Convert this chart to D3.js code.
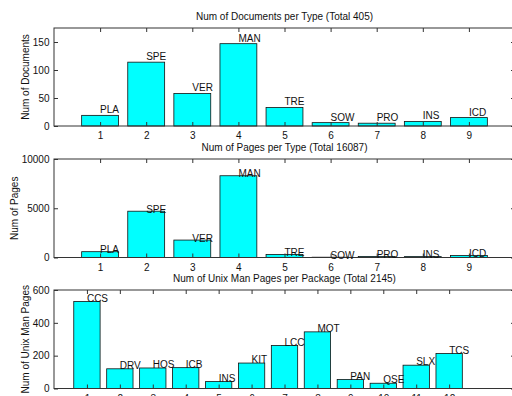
<!DOCTYPE html>
<html><head><meta charset="utf-8">
<script src="https://cdn.jsdelivr.net/npm/d3@7"></script>
<style>
html,body{margin:0;padding:0;background:#fff;overflow:hidden;}
text{font-family:"Liberation Sans",Arial,sans-serif;}
</style></head>
<body><svg id="c" width="512" height="396"></svg>
<script>
// ---- data ----
const docTypes = ["PLA","SPE","VER","MAN","TRE","SOW","PRO","INS","ICD"];
const docCounts = [19,114,58,147,33,6,5,8,15];
const pageCounts = [590,4700,1770,8300,310,30,100,90,200];
const packages = ["CCS","DRV","HOS","ICB","INS","KIT","LCC","MOT","PAN","QSE","SLX","TCS"];
const manPages = [530,120,125,127,42,155,262,345,55,32,142,213];
const docTicks = [0,50,100,150];
const pageTicks = [0,5000,10000];
const manTicks = [0,200,400,600];
const titles = ["Num of Documents per Type (Total 405)","Num of Pages per Type (Total 16087)","Num of Unix Man Pages per Package (Total 2145)"];
const yLabels = ["Num of Documents","Num of Pages","Num of Unix Man Pages"];

const svg = d3.select("#c");
const L = 54, R = 515;
const panels = [
  {labels:docTypes, values:docCounts, ticks:docTicks, yMax:175, xMax:10, top:28, bottom:126, off:10, title:titles[0], ylab:yLabels[0], ylx:25},
  {labels:docTypes, values:pageCounts, ticks:pageTicks, yMax:10000, xMax:10, top:159, bottom:257.5, off:200, title:titles[1], ylab:yLabels[1], ylx:14},
  {labels:packages, values:manPages, ticks:manTicks, yMax:600, xMax:14, top:290, bottom:388.5, off:20, title:titles[2], ylab:yLabels[2], ylx:25}
];

panels.forEach(p => {
  const x = d3.scaleLinear().domain([0,p.xMax]).range([L,R]);
  const y = d3.scaleLinear().domain([0,p.yMax]).range([p.bottom,p.top]);
  const g = svg.append("g");
  const bw = x(0.8)-x(0);
  const idx = p.values.map((v,i)=>i);
  // bars
  g.selectAll("rect.bar").data(idx).enter().append("rect")
    .attr("x", i => x(i+1)-bw/2).attr("width", bw)
    .attr("y", i => y(p.values[i])).attr("height", i => y(0)-y(p.values[i]))
    .attr("fill","#00ffff").attr("stroke","#111").attr("stroke-width",0.8);
  // frame
  g.append("rect").attr("x",L).attr("y",p.top).attr("width",R-L).attr("height",p.bottom-p.top)
    .attr("fill","none").attr("stroke","#333").attr("stroke-width",1);
  const tv = d3.range(1,p.values.length+1);
  const styleAxis = a => { a.select(".domain").remove(); a.selectAll("line").attr("stroke","#333");
    a.selectAll("text").attr("font-size",10).attr("fill","#111").style("font-family","Liberation Sans, Arial, sans-serif"); };
  g.append("g").attr("transform",`translate(0,${p.bottom})`)
    .call(d3.axisBottom(x).tickValues(tv).tickSize(-4).tickPadding(6).tickFormat(d3.format("d"))).call(styleAxis);
  g.append("g").attr("transform",`translate(0,${p.top})`)
    .call(d3.axisTop(x).tickValues(tv).tickSize(-4).tickFormat("")).call(styleAxis);
  g.append("g").attr("transform",`translate(${L},0)`)
    .call(d3.axisLeft(y).tickValues(p.ticks).tickSize(-4).tickPadding(4.5).tickFormat(d3.format("d"))).call(styleAxis);
  g.append("g").attr("transform",`translate(${R},0)`)
    .call(d3.axisRight(y).tickValues(p.ticks).tickSize(-4).tickFormat("")).call(styleAxis);
  // bar labels
  g.selectAll("text.lbl").data(idx).enter().append("text")
    .attr("x", i => x(i+1)).attr("y", i => y(p.values[i]+p.off)).attr("dy","0.35em")
    .attr("font-size",10).attr("fill","#111").text(i => p.labels[i]);
  // title
  g.append("text").attr("x",(L+R)/2).attr("y",p.top-12).attr("dy","0.35em").attr("text-anchor","middle")
    .attr("font-size",10).attr("fill","#111").text(p.title);
  // y label
  g.append("text").attr("transform",`translate(${p.ylx},${(p.top+p.bottom)/2}) rotate(-90)`)
    .attr("text-anchor","middle").attr("dy","0.35em").attr("font-size",10).attr("fill","#111").text(p.ylab);
});
</script></body></html>
